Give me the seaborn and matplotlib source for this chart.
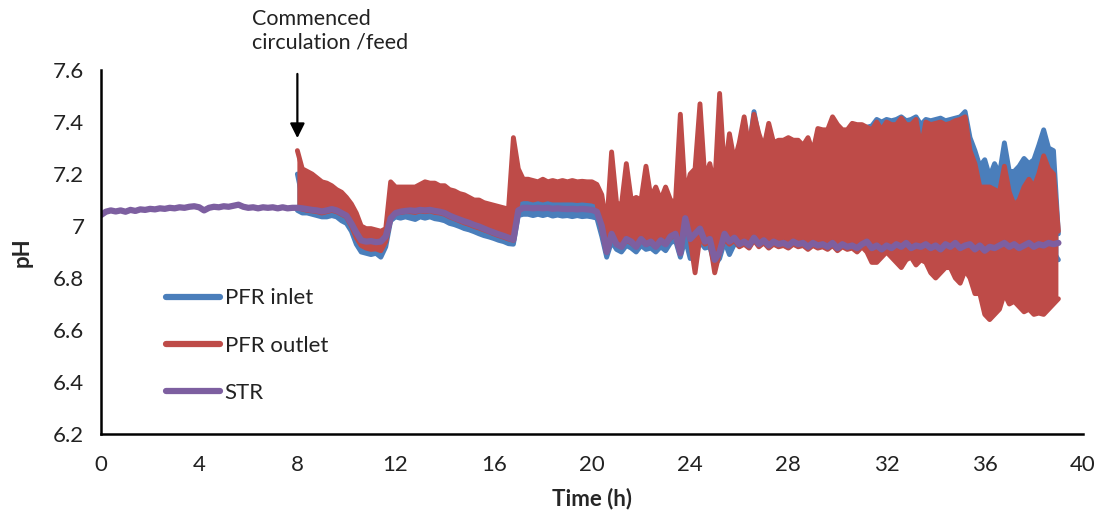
import numpy as np
import pandas as pd
import matplotlib
matplotlib.use("Agg")
import matplotlib.pyplot as plt
import seaborn as sns

# ---------------------------------------------------------------------------
# pH logs, sampled every 0.2 h.  STR runs from 0 h, the PFR probes from 8 h.
# The PFR traces oscillate quickly, so each is stored as its upper and lower
# envelope per sample.
# ---------------------------------------------------------------------------
str_start, pfr_start, step = 0.0, 8.0, 0.2

str_ph = [
    7.042, 7.055, 7.060, 7.056, 7.060,   # 0 h
    7.055, 7.062, 7.058, 7.064, 7.062,   # 1 h
    7.066, 7.064, 7.068, 7.066, 7.070,   # 2 h
    7.068, 7.072, 7.070, 7.074, 7.076,   # 3 h
    7.072, 7.060, 7.070, 7.074, 7.072,   # 4 h
    7.076, 7.074, 7.078, 7.082, 7.074,   # 5 h
    7.070, 7.072, 7.068, 7.072, 7.070,   # 6 h
    7.072, 7.068, 7.072, 7.068, 7.070,   # 7 h
    7.070, 7.068, 7.065, 7.062, 7.060,   # 8 h
    7.056, 7.060, 7.065, 7.060, 7.050,   # 9 h
    7.040, 7.010, 6.975, 6.945, 6.940,   # 10 h
    6.942, 6.938, 6.940, 6.960, 7.030,   # 11 h
    7.050, 7.055, 7.058, 7.060, 7.058,   # 12 h
    7.062, 7.060, 7.062, 7.058, 7.055,   # 13 h
    7.050, 7.040, 7.032, 7.025, 7.018,   # 14 h
    7.012, 7.004, 6.998, 6.990, 6.982,   # 15 h
    6.975, 6.968, 6.962, 6.955, 6.948,   # 16 h
    7.060, 7.070, 7.070, 7.068, 7.070,   # 17 h
    7.068, 7.070, 7.066, 7.068, 7.066,   # 18 h
    7.065, 7.066, 7.064, 7.066, 7.064,   # 19 h
    7.062, 7.055, 7.000, 6.900, 6.970,   # 20 h
    6.930, 6.920, 6.950, 6.940, 6.920,   # 21 h
    6.950, 6.930, 6.940, 6.920, 6.945,   # 22 h
    6.930, 6.960, 6.970, 6.895, 7.030,   # 23 h
    6.950, 6.970, 6.990, 6.940, 6.950,   # 24 h
    6.870, 6.900, 6.970, 6.940, 6.955,   # 25 h
    6.930, 6.940, 6.925, 6.955, 6.930,   # 26 h
    6.945, 6.925, 6.940, 6.930, 6.935,   # 27 h
    6.925, 6.940, 6.930, 6.935, 6.920,   # 28 h
    6.935, 6.925, 6.930, 6.920, 6.935,   # 29 h
    6.915, 6.930, 6.920, 6.925, 6.915,   # 30 h
    6.930, 6.940, 6.915, 6.925, 6.910,   # 31 h
    6.925, 6.915, 6.930, 6.920, 6.935,   # 32 h
    6.915, 6.925, 6.920, 6.930, 6.915,   # 33 h
    6.925, 6.910, 6.930, 6.920, 6.935,   # 34 h
    6.915, 6.925, 6.930, 6.910, 6.925,   # 35 h
    6.905, 6.920, 6.915, 6.925, 6.935,   # 36 h
    6.920, 6.930, 6.915, 6.925, 6.935,   # 37 h
    6.920, 6.930, 6.925, 6.935, 6.930,   # 38 h
    6.935,                               # 39 h
]

outlet_hi = [
    7.29, 7.22, 7.21, 7.20, 7.185,       # 8 h
    7.17, 7.165, 7.155, 7.14, 7.13,      # 9 h
    7.11, 7.085, 7.05, 7.00, 6.99,       # 10 h
    6.99, 6.985, 6.98, 6.99, 7.17,       # 11 h
    7.15, 7.15, 7.15, 7.15, 7.15,        # 12 h
    7.16, 7.17, 7.165, 7.165, 7.155,     # 13 h
    7.155, 7.14, 7.135, 7.125, 7.12,     # 14 h
    7.11, 7.10, 7.10, 7.09, 7.085,       # 15 h
    7.08, 7.075, 7.07, 7.065, 7.34,      # 16 h
    7.22, 7.18, 7.18, 7.175, 7.17,       # 17 h
    7.18, 7.17, 7.175, 7.17, 7.175,      # 18 h
    7.17, 7.175, 7.17, 7.172, 7.17,      # 19 h
    7.17, 7.16, 7.12, 7.00, 7.285,       # 20 h
    7.09, 7.08, 7.24, 7.10, 7.11,        # 21 h
    7.10, 7.23, 7.11, 7.15, 7.10,        # 22 h
    7.15, 7.10, 7.09, 7.43, 7.12,        # 23 h
    7.20, 7.22, 7.47, 7.18, 7.24,        # 24 h
    7.15, 7.51, 7.20, 7.355, 7.25,       # 25 h
    7.32, 7.42, 7.30, 7.43, 7.355,       # 26 h
    7.30, 7.395, 7.32, 7.33, 7.33,       # 27 h
    7.34, 7.33, 7.33, 7.31, 7.34,        # 28 h
    7.285, 7.375, 7.37, 7.37, 7.42,      # 29 h
    7.39, 7.37, 7.37, 7.395, 7.39,       # 30 h
    7.39, 7.38, 7.37, 7.40, 7.37,        # 31 h
    7.40, 7.39, 7.39, 7.415, 7.39,       # 32 h
    7.39, 7.41, 7.30, 7.40, 7.39,        # 33 h
    7.395, 7.40, 7.39, 7.395, 7.405,     # 34 h
    7.41, 7.42, 7.29, 7.24, 7.15,        # 35 h
    7.15, 7.15, 7.14, 7.13, 7.23,        # 36 h
    7.13, 7.08, 7.10, 7.15, 7.18,        # 37 h
    7.15, 7.20, 7.27, 7.22, 7.20,        # 38 h
    6.98,                                # 39 h
]

outlet_lo = [
    7.07, 7.065, 7.06, 7.058, 7.055,     # 8 h
    7.05, 7.055, 7.06, 7.055, 7.045,     # 9 h
    7.035, 7.00, 6.955, 6.925, 6.915,    # 10 h
    6.91, 6.912, 6.905, 6.94, 7.03,      # 11 h
    7.05, 7.052, 7.055, 7.055, 7.052,    # 12 h
    7.058, 7.055, 7.058, 7.052, 7.05,    # 13 h
    7.045, 7.035, 7.028, 7.02, 7.012,    # 14 h
    7.006, 6.998, 6.992, 6.985, 6.978,   # 15 h
    6.97, 6.963, 6.957, 6.95, 6.945,     # 16 h
    7.10, 7.105, 7.105, 7.10, 7.105,     # 17 h
    7.10, 7.105, 7.10, 7.10, 7.10,       # 18 h
    7.10, 7.10, 7.098, 7.10, 7.098,      # 19 h
    7.096, 7.09, 6.99, 6.90, 6.96,       # 20 h
    6.93, 6.92, 6.945, 6.935, 6.92,      # 21 h
    6.945, 6.93, 6.935, 6.92, 6.94,      # 22 h
    6.93, 6.955, 6.965, 6.90, 7.02,      # 23 h
    6.95, 6.82, 6.96, 6.93, 6.94,        # 24 h
    6.82, 6.90, 6.95, 6.93, 6.945,       # 25 h
    6.92, 6.93, 6.915, 6.945, 6.92,      # 26 h
    6.935, 6.915, 6.93, 6.92, 6.925,     # 27 h
    6.915, 6.93, 6.92, 6.925, 6.91,      # 28 h
    6.925, 6.915, 6.92, 6.91, 6.925,     # 29 h
    6.905, 6.92, 6.91, 6.915, 6.90,      # 30 h
    6.92, 6.90, 6.86, 6.86, 6.88,        # 31 h
    6.90, 6.88, 6.86, 6.84, 6.87,        # 32 h
    6.88, 6.85, 6.87, 6.86, 6.82,        # 33 h
    6.80, 6.82, 6.84, 6.84, 6.80,        # 34 h
    6.78, 6.83, 6.80, 6.74, 6.74,        # 35 h
    6.66, 6.64, 6.66, 6.68, 6.74,        # 36 h
    6.70, 6.71, 6.69, 6.67, 6.68,        # 37 h
    6.66, 6.665, 6.66, 6.68, 6.70,       # 38 h
    6.72,                                # 39 h
]

inlet_hi = [
    7.20, 7.11, 7.09, 7.08, 7.075,       # 8 h
    7.07, 7.07, 7.072, 7.068, 7.06,      # 9 h
    7.05, 7.02, 6.985, 6.955, 6.945,     # 10 h
    6.945, 6.94, 6.945, 6.97, 7.05,      # 11 h
    7.065, 7.068, 7.07, 7.07, 7.068,     # 12 h
    7.072, 7.07, 7.072, 7.068, 7.065,    # 13 h
    7.06, 7.05, 7.042, 7.035, 7.028,     # 14 h
    7.02, 7.012, 7.006, 6.998, 6.99,     # 15 h
    6.984, 6.977, 6.97, 6.965, 6.96,     # 16 h
    7.12, 7.10, 7.10, 7.098, 7.10,       # 17 h
    7.096, 7.10, 7.095, 7.098, 7.094,    # 18 h
    7.096, 7.092, 7.095, 7.09, 7.094,    # 19 h
    7.09, 7.08, 7.02, 6.93, 6.99,        # 20 h
    6.97, 6.96, 6.97, 6.97, 6.965,       # 21 h
    6.97, 6.96, 6.97, 6.965, 6.975,      # 22 h
    6.96, 6.98, 6.99, 7.00, 7.05,        # 23 h
    7.15, 6.99, 7.00, 6.98, 7.00,        # 24 h
    6.95, 7.00, 7.05, 7.30, 7.20,        # 25 h
    7.30, 7.38, 7.30, 7.44, 7.34,        # 26 h
    7.30, 7.38, 7.31, 7.32, 7.32,        # 27 h
    7.33, 7.32, 7.32, 7.30, 7.33,        # 28 h
    7.28, 7.36, 7.36, 7.36, 7.41,        # 29 h
    7.38, 7.36, 7.36, 7.385, 7.38,       # 30 h
    7.38, 7.38, 7.385, 7.41, 7.40,       # 31 h
    7.41, 7.405, 7.41, 7.42, 7.405,      # 32 h
    7.41, 7.42, 7.39, 7.41, 7.405,       # 33 h
    7.41, 7.415, 7.405, 7.41, 7.415,     # 34 h
    7.42, 7.44, 7.34, 7.29, 7.23,        # 35 h
    7.255, 7.19, 7.24, 7.20, 7.32,       # 36 h
    7.21, 7.21, 7.23, 7.26, 7.24,        # 37 h
    7.255, 7.31, 7.37, 7.30, 7.29,       # 38 h
    6.97,                                # 39 h
]

inlet_lo = [
    7.06, 7.05, 7.05, 7.045, 7.04,       # 8 h
    7.035, 7.035, 7.04, 7.035, 7.02,     # 9 h
    7.01, 6.98, 6.93, 6.90, 6.895,       # 10 h
    6.89, 6.895, 6.88, 6.92, 7.02,       # 11 h
    7.035, 7.03, 7.035, 7.03, 7.025,     # 12 h
    7.035, 7.03, 7.035, 7.028, 7.025,    # 13 h
    7.02, 7.01, 7.005, 6.998, 6.99,      # 14 h
    6.985, 6.978, 6.97, 6.963, 6.958,    # 15 h
    6.952, 6.945, 6.94, 6.932, 6.93,     # 16 h
    7.04, 7.045, 7.045, 7.04, 7.045,     # 17 h
    7.04, 7.045, 7.038, 7.042, 7.038,    # 18 h
    7.04, 7.036, 7.04, 7.036, 7.038,     # 19 h
    7.035, 7.03, 6.96, 6.88, 6.94,       # 20 h
    6.91, 6.90, 6.925, 6.915, 6.90,      # 21 h
    6.925, 6.91, 6.915, 6.90, 6.92,      # 22 h
    6.905, 6.935, 6.945, 6.88, 6.95,     # 23 h
    6.875, 6.93, 6.94, 6.915, 6.92,      # 24 h
    6.85, 6.875, 6.94, 6.89, 6.93,       # 25 h
    6.925, 6.935, 6.92, 6.95, 6.925,     # 26 h
    6.94, 6.92, 6.935, 6.925, 6.93,      # 27 h
    6.92, 6.935, 6.925, 6.93, 6.915,     # 28 h
    6.93, 6.92, 6.925, 6.915, 6.93,      # 29 h
    6.91, 6.925, 6.915, 6.92, 6.905,     # 30 h
    6.925, 6.905, 6.90, 6.90, 6.90,      # 31 h
    6.905, 6.905, 6.90, 6.905, 6.905,    # 32 h
    6.905, 6.90, 6.905, 6.905, 6.90,     # 33 h
    6.905, 6.90, 6.905, 6.905, 6.90,     # 34 h
    6.905, 6.905, 6.90, 6.905, 6.90,     # 35 h
    6.90, 6.905, 6.905, 6.90, 6.905,     # 36 h
    6.905, 6.90, 6.905, 6.905, 6.90,     # 37 h
    6.905, 6.90, 6.905, 6.905, 6.90,     # 38 h
    6.87,                                # 39 h
]

series_names = ["PFR inlet", "PFR outlet", "STR"]
series_colors = ["#4A7EBB", "#BE4B48", "#7D5FA0"]

x_ticks = [0, 4, 8, 12, 16, 20, 24, 28, 32, 36, 40]
y_ticks = [6.2, 6.4, 6.6, 6.8, 7.0, 7.2, 7.4, 7.6]
y_tick_labels = ["6.2", "6.4", "6.6", "6.8", "7", "7.2", "7.4", "7.6"]

feed_start_h = 8.0
feed_note = "Commenced\ncirculation /feed"

# ---------------------------------------------------------------------------
sns.set_style("white")
plt.rcParams["font.family"] = ["Lato", "DejaVu Sans"]
plt.rcParams["axes.unicode_minus"] = False

t_str = np.round(str_start + step * np.arange(len(str_ph)), 2)
t_pfr = np.round(pfr_start + step * np.arange(len(outlet_hi)), 2)

fig = plt.figure(figsize=(11.0, 5.16), dpi=100)
ax = fig.add_axes([0.0918, 0.1589, 0.8927, 0.7054])

LW = 3.5


def draw_envelope(t, hi, lo, color, label, z):
    """Fill between the envelopes and stroke both edges (one layer each)."""
    env = pd.DataFrame({"t": np.concatenate([t, t]),
                        "pH": np.concatenate([hi, lo])})
    sns.lineplot(data=env, x="t", y="pH", estimator="max",
                 errorbar=("pi", 100),
                 err_kws={"alpha": 1.0, "linewidth": 0, "edgecolor": "none",
                          "zorder": z},
                 color=color, linewidth=LW, label=label, zorder=z + 0.05,
                 solid_joinstyle="round", solid_capstyle="round", ax=ax)
    sns.lineplot(x=t, y=np.asarray(lo), color=color, linewidth=LW,
                 zorder=z + 0.05,
                 solid_joinstyle="round", solid_capstyle="round", ax=ax)


draw_envelope(t_pfr, inlet_hi, inlet_lo, series_colors[0], series_names[0],
              2.0)
draw_envelope(t_pfr, outlet_hi, outlet_lo, series_colors[1], series_names[1],
              2.2)
sns.lineplot(x=t_str, y=np.asarray(str_ph), color=series_colors[2],
             linewidth=4.5, label=series_names[2], zorder=2.4,
             solid_joinstyle="round", solid_capstyle="round", ax=ax)

# axes
ax.set_xlim(0, 40)
ax.set_ylim(6.2, 7.6)
ax.set_xticks(x_ticks)
ax.set_xticklabels([str(v) for v in x_ticks])
ax.set_yticks(y_ticks)
ax.set_yticklabels(y_tick_labels)
ax.tick_params(axis="both", which="major", direction="out", length=6,
               width=1.6, color="black", labelsize=16, labelcolor="#222222",
               pad=6)
ax.tick_params(axis="x", pad=9)
for side in ("top", "right"):
    ax.spines[side].set_visible(False)
for side in ("left", "bottom"):
    ax.spines[side].set_color("black")
    ax.spines[side].set_linewidth(1.8)
    ax.spines[side].set_zorder(3)
ax.grid(False)

ax.set_xlabel("Time (h)", fontsize=16, fontweight="bold", labelpad=9)
ax.set_ylabel("pH", fontsize=16, fontweight="bold", labelpad=15)

# legend
handles, labels = ax.get_legend_handles_labels()
leg = ax.legend(handles, labels, loc="center left",
                bbox_to_anchor=(0.066, 0.243), frameon=False, fontsize=16,
                handlelength=2.45, handletextpad=0.2, labelspacing=1.22,
                borderpad=0, borderaxespad=0)
for line in leg.get_lines():
    line.set_linewidth(4.5)
for txt in leg.get_texts():
    txt.set_color("#222222")

# feed start annotation
ax.annotate("", xy=(feed_start_h, 7.338), xytext=(feed_start_h, 7.585),
            arrowprops=dict(arrowstyle="-|>", color="black", lw=1.6,
                            mutation_scale=22, shrinkA=0, shrinkB=0),
            annotation_clip=False)
ax.text(6.15, 7.835, feed_note, fontsize=15.5, color="#222222", ha="left",
        va="top", linespacing=1.2, clip_on=False)

fig.savefig("out.png", dpi=100)
